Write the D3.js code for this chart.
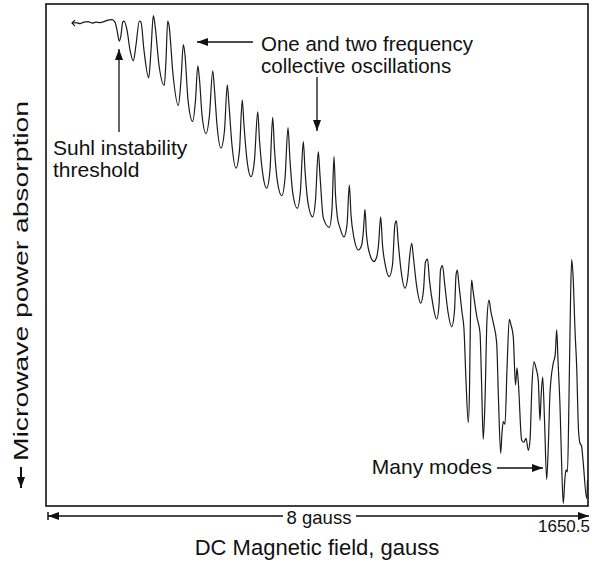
<!DOCTYPE html>
<html>
<head>
<meta charset="utf-8">
<script src="https://cdn.jsdelivr.net/npm/d3@7"></script>
<style>
  body { margin: 0; background: #fff; }
  text { font-family: "Liberation Sans", Arial, Helvetica, sans-serif; fill: #111; }
</style>
</head>
<body>
<svg id="chart" width="592" height="565"></svg>
<script>
// field offset from start of sweep, gauss (sweep is 8 gauss, ending at 1650.5)
const field = [0.384,0.443,0.502,0.561,0.620,0.679,0.738,0.797,0.856,0.915,
  0.974,1.018,1.048,1.082,1.107,1.132,1.151,1.196,1.240,1.289,
  1.328,1.377,1.402,1.446,1.516,1.550,1.584,1.609,1.668,1.746,
  1.771,1.796,1.815,1.875,1.953,1.993,2.027,2.052,2.096,2.165,
  2.207,2.241,2.266,2.303,2.362,2.413,2.461,2.487,2.524,2.583,
  2.635,2.676,2.701,2.745,2.804,2.856,2.897,2.922,2.967,3.026,
  3.077,3.125,3.151,3.196,3.258,3.306,3.346,3.373,3.417,3.479,
  3.528,3.572,3.601,3.646,3.709,3.756,3.798,3.823,3.867,3.936,
  3.978,4.019,4.044,4.093,4.182,4.221,4.251,4.273,4.300,4.339,
  4.398,4.443,4.477,4.502,4.546,4.610,4.660,4.686,4.708,4.731,
  4.782,4.841,4.881,4.908,4.940,4.967,5.011,5.067,5.114,5.151,
  5.173,5.196,5.240,5.299,5.343,5.365,5.398,5.424,5.469,5.531,
  5.572,5.601,5.631,5.660,5.712,5.767,5.801,5.823,5.852,5.882,
  5.934,5.988,6.030,6.052,6.071,6.096,6.140,6.170,6.199,6.233,
  6.251,6.266,6.283,6.302,6.362,6.406,6.428,6.454,6.480,6.509,
  6.539,6.568,6.602,6.652,6.679,6.711,6.731,6.750,6.775,6.804,
  6.838,6.863,6.897,6.930,6.952,6.974,7.021,7.055,7.085,7.119,
  7.144,7.173,7.203,7.232,7.266,7.291,7.309,7.331,7.358,7.390,
  7.417,7.439,7.488,7.516,7.538,7.557,7.587,7.609,7.635,7.658,
  7.675,7.697,7.719,7.742,7.759,7.779,7.808,7.833,7.860,7.882,
  7.904,7.926,7.981,7.993];

// microwave power absorption, arbitrary units (0 = top of frame, 100 = bottom)
const absorption = [3.8,3.7,3.9,3.6,3.5,3.8,3.6,3.7,3.5,3.2,
  3.1,3.6,5.2,7.4,6.2,3.6,3.4,5.2,9.2,11.3,
  8.2,3.4,3.6,9.2,14.7,9.2,2.3,4.2,12.2,16.2,
  11.2,3.4,4.2,14.1,20.2,15.1,8.1,10.2,19.1,23.4,
  19.1,12.3,15.1,22.1,25.8,22.1,13.3,17.1,24.1,28.7,
  25.1,16.1,20.1,28.1,32.7,29.1,19.1,24.1,31.1,34.4,
  31.1,21.5,27.1,33.5,36.7,33.1,22.6,29.1,35.5,38.2,
  34.7,24.6,31.1,38.0,40.7,37.1,27.4,33.1,39.6,42.4,
  39.0,29.4,34.1,42.6,44.5,41.0,30.4,38.0,42.4,44.6,
  46.4,44.0,36.1,42.0,46.6,49.0,48.0,45.0,40.9,46.0,
  50.0,51.3,50.4,48.0,42.4,48.0,52.2,54.3,52.0,43.8,
  43.2,47.0,53.0,56.6,54.0,50.6,47.7,50.6,56.0,59.6,
  57.0,51.4,50.8,55.0,60.0,62.8,60.0,53.0,52.1,55.4,
  61.4,64.3,61.0,54.0,53.0,56.0,61.4,64.9,74.9,83.4,
  76.9,61.0,55.0,57.0,62.5,65.5,74.9,86.7,78.9,62.9,
  59.0,61.4,63.5,67.5,78.9,89.5,85.3,83.2,83.7,72.9,
  62.8,63.9,66.3,75.9,72.5,75.9,86.9,87.3,86.5,88.9,
  86.9,75.9,71.3,72.5,74.9,82.9,77.9,74.3,82.9,94.7,
  86.9,77.5,71.5,69.9,64.9,70.9,80.2,90.8,99.5,94.8,
  92.8,93.2,78.9,59.0,50.9,54.0,64.9,72.3,84.9,87.5,
  88.0,90.8,98.5,94.8];

const sweepGauss = 8;
const fieldEnd = "1650.5";
const xTitle = "DC Magnetic field, gauss";
const yTitle = "Microwave power absorption";
const noteOsc = ["One and two frequency", "collective oscillations"];
const noteSuhl = ["Suhl instability", "threshold"];
const noteModes = ["Many modes"];

const box = { left: 46, right: 588, top: 4, bottom: 506 };

const svg = d3.select("#chart");

const x = d3.scaleLinear().domain([0, sweepGauss]).range([box.left, box.right]);
const y = d3.scaleLinear().domain([0, 100]).range([box.top, box.bottom]);

// arrow head
svg.append("defs").append("marker")
  .attr("id", "head")
  .attr("viewBox", "0 0 11 8")
  .attr("refX", 11).attr("refY", 4)
  .attr("markerWidth", 11).attr("markerHeight", 8)
  .attr("markerUnits", "userSpaceOnUse")
  .attr("orient", "auto-start-reverse")
  .append("path")
  .attr("d", "M0,0 L11,4 L0,8 Z")
  .attr("fill", "#111");

// frame
svg.append("rect")
  .attr("x", box.left).attr("y", box.top)
  .attr("width", box.right - box.left).attr("height", box.bottom - box.top)
  .attr("fill", "none").attr("stroke", "#111").attr("stroke-width", 1.6);

// trace
const pts = field.map((f, i) => [f, absorption[i]]);
const line = d3.line()
  .x(d => x(d[0]))
  .y(d => y(d[1]))
  .curve(d3.curveMonotoneX);

svg.append("path")
  .datum(pts)
  .attr("d", line)
  .attr("fill", "none")
  .attr("stroke", "#1a1a1a")
  .attr("stroke-width", 1.2)
  .attr("stroke-linejoin", "round");

// little start mark on the trace
const x0 = x(field[0]), y0 = y(absorption[0]);
svg.append("path")
  .attr("d", `M${x0 + 3},${y0 - 3} L${x0},${y0} L${x0 + 3},${y0 + 3}`)
  .attr("fill", "none").attr("stroke", "#111").attr("stroke-width", 1.2);

const arrow = (x1, y1, x2, y2) => svg.append("line")
  .attr("x1", x1).attr("y1", y1).attr("x2", x2).attr("y2", y2)
  .attr("stroke", "#111").attr("stroke-width", 1.3)
  .attr("marker-end", "url(#head)");

const block = (lines, tx, ty, size, anchor, step) => {
  const t = svg.append("text")
    .attr("x", tx).attr("y", ty)
    .attr("font-size", size)
    .attr("text-anchor", anchor);
  lines.forEach((s, i) => t.append("tspan").attr("x", tx).attr("dy", i ? step : 0).text(s));
};

// annotations
block(noteOsc, 261, 51, 20.5, "start", 22);
arrow(253, 42, 197, 42);
arrow(317, 77, 317, 131);

block(noteSuhl, 53, 155, 21, "start", 22);
arrow(119, 132, 119, 49);

block(noteModes, 492, 474, 21, "end", 20);
arrow(497, 468, 543, 468);

// sweep width bar below the frame
const barY = 516;
svg.append("line")
  .attr("x1", box.left + 2).attr("y1", barY - 4).attr("x2", box.left + 2).attr("y2", barY + 4)
  .attr("stroke", "#111").attr("stroke-width", 1.5);
svg.append("line")
  .attr("x1", 283).attr("y1", barY).attr("x2", box.left + 2).attr("y2", barY)
  .attr("stroke", "#111").attr("stroke-width", 1.5)
  .attr("marker-end", "url(#head)");
svg.append("line")
  .attr("x1", 356).attr("y1", barY).attr("x2", box.right + 1).attr("y2", barY)
  .attr("stroke", "#111").attr("stroke-width", 1.5)
  .attr("marker-end", "url(#head)");
svg.append("text")
  .attr("x", (x(0) + x(sweepGauss)) / 2 + 2).attr("y", barY + 8)
  .attr("text-anchor", "middle").attr("font-size", 18.5)
  .text(`${sweepGauss} gauss`);

svg.append("text")
  .attr("x", x(sweepGauss) + 2).attr("y", 532)
  .attr("text-anchor", "end").attr("font-size", 17)
  .text(fieldEnd);

svg.append("text")
  .attr("x", 317).attr("y", 555)
  .attr("text-anchor", "middle").attr("font-size", 22)
  .text(xTitle);

// y title with downward arrow (absorption increases downward)
svg.append("line")
  .attr("x1", 21).attr("y1", 467).attr("x2", 21).attr("y2", 488)
  .attr("stroke", "#111").attr("stroke-width", 2)
  .attr("marker-end", "url(#head)");
svg.append("text")
  .attr("transform", "translate(28,461) rotate(-90)")
  .attr("font-size", 21)
  .attr("textLength", 360)
  .attr("lengthAdjust", "spacingAndGlyphs")
  .text(yTitle);
</script>
</body>
</html>
